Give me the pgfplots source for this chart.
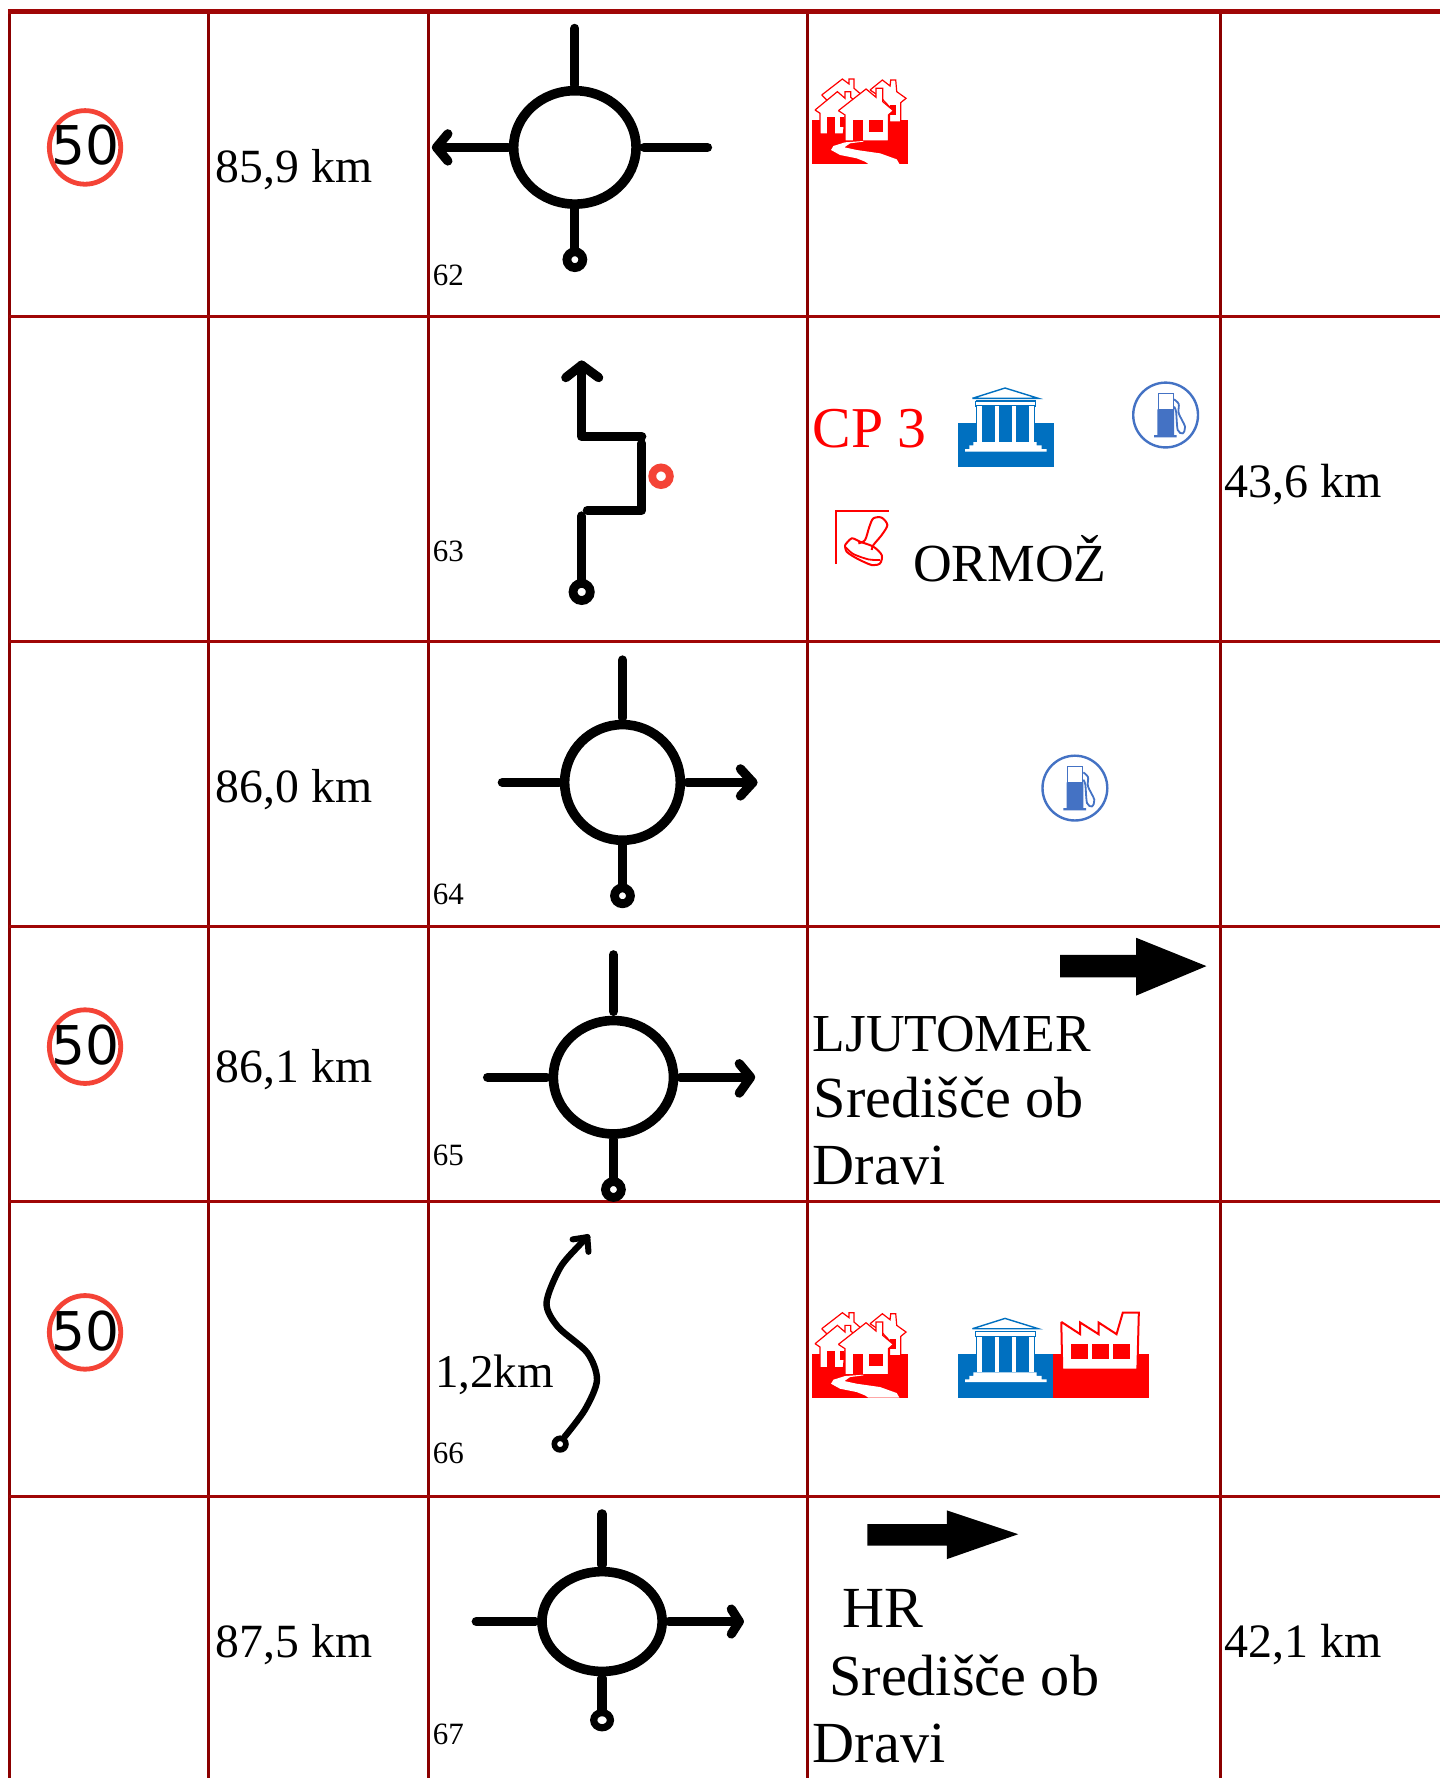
\documentclass[border=0pt]{standalone}
\usepackage{pgfplots}
\pgfplotsset{compat=1.18}
\usepackage{fontspec}
\setmainfont{Liberation Serif}
\newfontfamily\djv{DejaVu Sans}
\definecolor{gridh}{HTML}{A00606}
\definecolor{gridv}{HTML}{8B0000}
\definecolor{sign}{HTML}{F44336}
\definecolor{bld}{HTML}{0070C0}
\definecolor{fuel}{HTML}{4472C4}
\pgfplotsset{
  icon/.style n args={4}{x filter/.expression={#1+#2*x},y filter/.expression={#3+#4*y}},
  bk/.style={black,line width=4.6pt,line cap=round,line join=round},
  glh/.style={draw=gridh,line width=1.5pt},
  glv/.style={draw=gridv,line width=1.5pt},
}
\newcommand{\T}[5][black]{\node[anchor=base west,inner sep=0pt,text=#1] at (axis cs:#2,#3) {\fontsize{#4}{#4}\selectfont #5};}
\newcommand{\sring}[4]{\addplot[only marks,mark=*,mark size=#3*0.567pt,mark options={draw=black,fill=white,line width=4.4pt,xscale=#4}] coordinates {(#1,#2)};}
\newcommand{\ringoid}[4]{\addplot[only marks,mark=*,mark size=#4*0.567pt,mark options={draw=black,fill=white,line width=4.8pt,xscale=#3/#4}] coordinates {(#1,#2)};}
\newcommand{\speed}[1]{%
  \addplot[only marks,mark=o,mark size=18.4pt,mark options={draw=sign,line width=2.4pt,xscale=0.97}] coordinates {(75,#1)};}
\newcommand{\speedtext}[1]{\node[anchor=base,inner sep=0pt] at (axis cs:75,#1) {\djv\fontsize{26.7}{26.7}\selectfont 50};}
\newcommand{\houses}[1]{%
  \pgfplotsset{hh/.style={icon={705.6}{0.294}{52.9+#1}{0.294}}}%
  \addplot[hh,fill=red,draw=none] coordinates {(36,180)(325,180)(325,312)(36,312)};
  \addplot[hh,fill=white,draw=red,line width=0.6pt] coordinates {(65,105)(127,57)(147,72)(147,57)(162,57)(162,85)(185,105)(150,125)(130,135)(100,142)(78,118)(65,105)};
  \addplot[hh,fill=white,draw=red,line width=0.6pt] coordinates {(210,90)(247,60)(270,78)(272,60)(287,60)(290,95)(318,115)(302,128)(302,186)(268,186)(268,140)(240,110)(210,90)};
  \addplot[hh,fill=red,draw=none] coordinates {(270,135)(288,135)(288,165)(270,165)};
  \addplot[hh,fill=white,draw=red,line width=0.6pt] coordinates {(45,150)(112,95)(135,115)(135,95)(152,95)(152,112)(180,135)(135,170)(130,222)(60,222)(60,160)(45,150)};
  \addplot[hh,fill=red,draw=none] coordinates {(80,172)(105,172)(105,222)(80,222)};
  \addplot[hh,fill=red,draw=none] coordinates {(120,172)(133,172)(133,200)(120,200)};
  \addplot[hh,fill=white,draw=red,line width=0.6pt] coordinates {(115,152)(198,87)(228,112)(228,85)(248,85)(248,125)(280,152)(265,165)(265,243)(135,243)(135,165)(115,152)};
  \addplot[hh,fill=red,draw=none] coordinates {(160,180)(190,180)(190,243)(160,243)};
  \addplot[hh,fill=red,draw=none] coordinates {(208,180)(248,180)(248,217)(208,217)};
  \addplot[hh,fill=white,draw=none] coordinates {(190,243)(135,247)(100,258)(93,270)(120,285)(170,295)(195,305)(205,312)(298,312)(290,298)(240,280)(170,270)(133,262)(150,250)(190,245)};
}
\newcommand{\building}[1]{%
  \pgfplotsset{bb/.style={icon={714.4}{0.294}{326.3+#1}{0.294}}}%
  \addplot[bb,fill=bld,draw=none] coordinates {(443,160)(731,160)(731,292)(443,292)};
  \addplot[bb,fill=white,draw=bld,line width=0.7pt] coordinates {(487,85)(585,54)(685,85)(487,85)};
  \addplot[bb,fill=bld,draw=bld,line width=0.5pt] coordinates {(500,108)(672,108)(672,216)(500,216)(500,108)};
  \addplot[bb,fill=white,draw=bld,line width=0.7pt] coordinates {(497,93)(677,93)(677,108)(497,108)(497,93)};
  \addplot[bb,fill=white,draw=none] coordinates {(502,109)(515,109)(515,216)(502,216)};
  \addplot[bb,fill=white,draw=none] coordinates {(554,109)(567,109)(567,216)(554,216)};
  \addplot[bb,fill=white,draw=none] coordinates {(606,109)(619,109)(619,216)(606,216)};
  \addplot[bb,fill=white,draw=none] coordinates {(658,109)(671,109)(671,216)(658,216)};
  \addplot[bb,fill=white,draw=none] coordinates {(465,245)(465,237)(478,237)(478,226)(490,226)(490,216)(680,216)(680,226)(695,226)(695,237)(710,237)(710,245)};
}
\newcommand{\pump}[2]{%
  \pgfplotsset{ff/.style={icon={714.4+#1}{0.294}{326.3+#2}{0.294}}}%
  \addplot[only marks,mark=o,mark size=16.2pt,mark options={draw=fuel,line width=1.2pt}] coordinates {(1028+#1,366+#2)};
  \addplot[ff,fill=fuel,draw=none] coordinates {(1042,118)(1092,118)(1092,195)(1100,195)(1100,202)(1032,202)(1032,195)(1042,195)};
  \addplot[ff,fill=white,draw=fuel,line width=0.8pt] coordinates {(1045,70)(1090,70)(1090,118)(1045,118)(1045,70)};
  \addplot[ff,smooth,draw=fuel,line width=0.9pt] coordinates {(1092,88)(1106,102)(1106,130)(1125,170)(1118,190)(1103,180)(1098,125)(1092,110)};
}
\begin{document}
\begin{tikzpicture}
\begin{axis}[name=ax,
  scale only axis,width=720pt,height=889pt,
  xmin=0,xmax=1270,ymin=0,ymax=1568,y dir=reverse,
  hide axis,clip=false,
  after end axis/.code={\speedtext{145.5}\speedtext{939}\speedtext{1191}}]
% background
\addplot[fill=white,draw=none] coordinates {(0,0)(1270,0)(1270,1568)(0,1568)};
% grid
\addplot[glv] coordinates {(8,10)(8,1568)};
\addplot[glv] coordinates {(184,10)(184,1568)};
\addplot[glv] coordinates {(378,10)(378,1568)};
\addplot[glv] coordinates {(712,10)(712,1568)};
\addplot[glv] coordinates {(1076,10)(1076,1568)};
\addplot[draw=gridh,line width=2.2pt] coordinates {(7,10)(1270,10)};
\addplot[glh] coordinates {(8,279)(1270,279)};
\addplot[glh] coordinates {(8,566)(1270,566)};
\addplot[glh] coordinates {(8,817)(1270,817)};
\addplot[glh] coordinates {(8,1060)(1270,1060)};
\addplot[glh] coordinates {(8,1320)(1270,1320)};
% speed signs
\speed{130}
\speed{923}
\speed{1175}
% distances
\T{190}{161}{23.85}{85,9 km}
\T{190}{708}{23.85}{86,0 km}
\T{190}{955}{23.85}{86,1 km}
\T{190}{1462}{23.85}{87,5 km}
\T{1080}{439}{24}{43,6 km}
\T{1080}{1462}{24}{42,1 km}
% numbers
\T{381.5}{252}{15.5}{62}
\T{381.5}{495}{15.5}{63}
\T{381.5}{798}{15.5}{64}
\T{381.5}{1028}{15.5}{65}
\T{381.5}{1291}{15.5}{66}
\T{381.5}{1538}{15.5}{67}
\T{383.5}{1224}{23.5}{1,2km}
% roundabout 62
\addplot[bk] coordinates {(507,25)(507,75)};
\addplot[bk] coordinates {(507,184)(507,225)};
\addplot[bk] coordinates {(568,130)(624,130)};
\addplot[bk] coordinates {(448,130)(385,130)};
\addplot[bk] coordinates {(395,118)(385,130)(395,142)};
\ringoid{507}{130}{54}{50}
\sring{507}{229}{7}{1}
% 63
\addplot[bk] coordinates {(499,333)(513,322)(528,333)};
\addplot[bk] coordinates {(513,322)(513,385)(566,385)};
\addplot[bk] coordinates {(566,391)(566,450)(518,450)};
\addplot[bk] coordinates {(513,455)(513,515)};
\sring{513}{522}{7.6}{1}
\addplot[only marks,mark=*,mark size=4.4pt,mark options={draw=sign,fill=white,line width=3.9pt}] coordinates {(583,420)};
% 64
\addplot[bk] coordinates {(549,582)(549,633)};
\addplot[bk] coordinates {(549,745)(549,785)};
\addplot[bk] coordinates {(443,690)(493,690)};
\addplot[bk] coordinates {(606,690)(664,690)};
\addplot[bk] coordinates {(653,678)(664,690)(653,702)};
\ringoid{549}{690}{51}{51}
\sring{549}{790}{7}{1}
% 65
\addplot[bk] coordinates {(541,842)(541,892)};
\addplot[bk] coordinates {(541,1005)(541,1045)};
\addplot[bk] coordinates {(430,950)(482,950)};
\addplot[bk] coordinates {(600,950)(661,950)};
\addplot[bk] coordinates {(652,938)(662,950)(652,964)};
\ringoid{541}{950}{53}{50}
\sring{541}{1049}{7}{1}
% 66
\addplot[black,line width=3.2pt,line cap=round,smooth] coordinates {(498,1267)(516,1243)(526.5,1217)(518,1193)(492,1170)(482,1149)(494,1118)(511,1098)(518,1091)};
\addplot[black,line width=3pt,line cap=round,line join=round] coordinates {(505,1093)(518,1091)(519,1104)};
\addplot[only marks,mark=*,mark size=2.9pt,mark options={draw=black,fill=white,line width=2.8pt}] coordinates {(494,1273.5)};
% 67
\addplot[bk] coordinates {(531,1335)(531,1380)};
\addplot[bk] coordinates {(531,1480)(531,1512)};
\addplot[bk] coordinates {(420,1430)(472,1430)};
\addplot[bk] coordinates {(590,1430)(652,1430)};
\addplot[bk] coordinates {(645,1419)(652,1430)(645,1441)};
\ringoid{531}{1430}{53}{44}
\addplot[only marks,mark=*,mark size=3.8pt,mark options={draw=black,fill=white,line width=3.6pt,xscale=1.1}] coordinates {(531,1517)};
% icons
\houses{0}
\houses{1088}
\building{0}
\building{820.5}
\pump{0}{0}
\pump{-80}{329}
% factory
\pgfplotsset{fc/.style={icon={370.4}{0.4275}{1058.4}{0.294}}}
\addplot[fc,fill=red,draw=none] coordinates {(1305,460)(1503,460)(1503,593)(1305,593)};
\addplot[fc,fill=white,draw=red,line width=1pt] coordinates {(1323,365)(1362,402)(1362,367)(1400,402)(1400,367)(1437,402)(1450,337)(1483,337)(1480,508)(1325,508)(1323,365)};
\addplot[fc,fill=red,draw=none] coordinates {(1343,430)(1378,430)(1378,477)(1343,477)};
\addplot[fc,fill=red,draw=none] coordinates {(1386,430)(1421,430)(1421,477)(1386,477)};
\addplot[fc,fill=red,draw=none] coordinates {(1430,430)(1465,430)(1465,477)(1430,477)};
% stamp
\pgfplotsset{st/.style={icon={714.4}{0.294}{326.3}{0.294}}}
\addplot[st,draw=red,line width=1.1pt] coordinates {(78,582)(78,423)(238,423)};
\addplot[st,draw=red,line width=1pt,smooth] coordinates {(105,525)(125,505)(150,515)(190,530)(215,555)(210,580)(185,585)(140,565)(110,545)(105,525)};
\addplot[st,draw=red,line width=0.9pt,smooth] coordinates {(107,532)(130,552)(175,568)(210,570)};
\addplot[st,draw=red,line width=1pt,smooth] coordinates {(145,520)(165,510)(178,470)(190,445)(215,443)(232,465)(215,495)(190,525)(185,540)};
% arrows
\addplot[fill=black,draw=none] coordinates {(935,842)(1002,842)(1002,827)(1064,852)(1002,878)(1002,862)(935,862)};
\addplot[fill=black,draw=none] coordinates {(765,1344)(835,1344)(835,1332)(898,1353)(835,1375)(835,1363)(765,1363)};
% text
\T[red]{716.5}{395}{28.9}{CP 3}
\T{805}{512.5}{26.8}{ORMOŽ}
\T{716.5}{927.5}{26.7}{LJUTOMER}
\T{717.5}{985.5}{29.1}{Središče ob}
\T{716.5}{1044.5}{29.1}{Dravi}
\T{743}{1435}{29.1}{HR}
\T{731}{1495}{29.1}{Središče ob}
\T{716.5}{1554}{29.1}{Dravi}
\end{axis}
\pgfresetboundingbox
\path[use as bounding box] (ax.south west) rectangle (ax.north east);
\end{tikzpicture}
\end{document}
